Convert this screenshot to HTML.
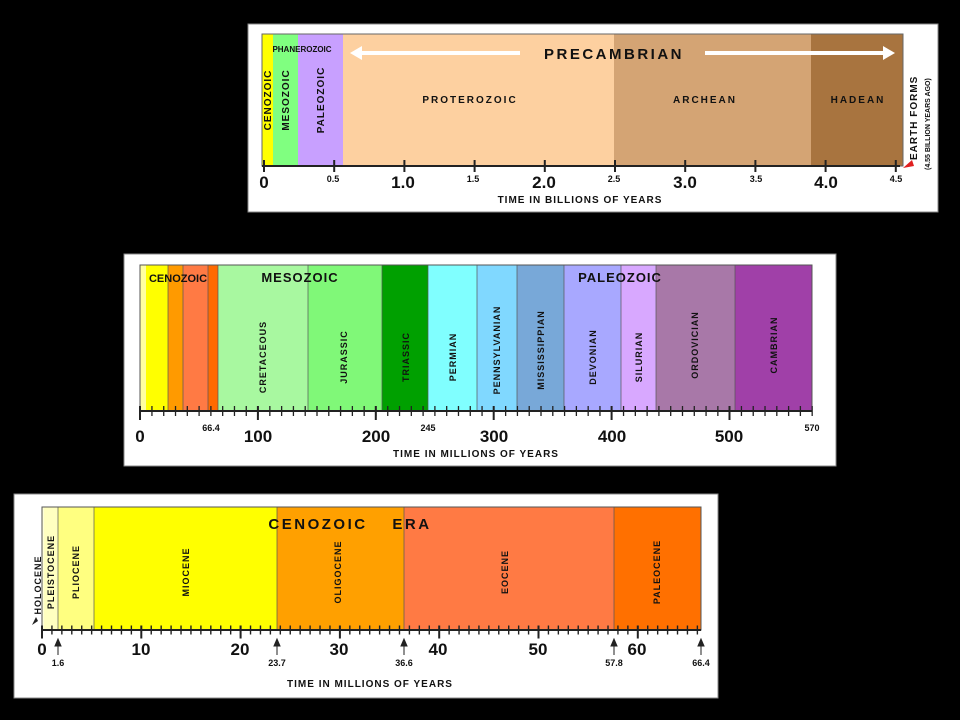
<!DOCTYPE html>
<html><head><meta charset="utf-8"><style>
html,body{margin:0;padding:0;background:#000;}
svg{display:block;}
text{font-family:"Liberation Sans","DejaVu Sans",sans-serif;font-weight:bold;fill:#111;}
</style></head><body>
<svg width="960" height="720" viewBox="0 0 960 720" xmlns="http://www.w3.org/2000/svg">
<rect width="960" height="720" fill="#000"/>

<!-- PANEL 1 -->
<rect x="248" y="24" width="690" height="188" fill="#fff" stroke="#888"/>
<rect x="262" y="34" width="11" height="132" fill="#ffff00"/>
<rect x="273" y="34" width="25" height="132" fill="#80ff80"/>
<rect x="298" y="34" width="45" height="132" fill="#c8a0ff"/>
<rect x="343" y="34" width="271" height="132" fill="#fdd0a0"/>
<rect x="614" y="34" width="197" height="132" fill="#d4a474"/>
<rect x="811" y="34" width="92" height="132" fill="#a8743f"/>
<rect x="262" y="34" width="641" height="132" fill="none" stroke="#666" stroke-width="1"/>
<line x1="262" y1="166" x2="900" y2="166" stroke="#222" stroke-width="2"/>
<line x1="263" y1="166" x2="900" y2="166" stroke="#222" stroke-width="12" stroke-dasharray="2 68.2"/>
<text x="302" y="52" font-size="8" text-anchor="middle">PHANEROZOIC</text>
<text x="614" y="59" font-size="15" text-anchor="middle" letter-spacing="2.5">PRECAMBRIAN</text>
<line x1="358" y1="53" x2="520" y2="53" stroke="#fff" stroke-width="4"/>
<polygon points="350,53 362,46 362,60" fill="#fff"/>
<line x1="705" y1="53" x2="885" y2="53" stroke="#fff" stroke-width="4"/>
<polygon points="895,53 883,46 883,60" fill="#fff"/>
<text transform="translate(271,100) rotate(-90)" font-size="10" text-anchor="middle" letter-spacing="1">CENOZOIC</text>
<text transform="translate(289,100) rotate(-90)" font-size="10" text-anchor="middle" letter-spacing="1">MESOZOIC</text>
<text transform="translate(324,100) rotate(-90)" font-size="10" text-anchor="middle" letter-spacing="1">PALEOZOIC</text>
<text x="470" y="103" font-size="10" text-anchor="middle" letter-spacing="2">PROTEROZOIC</text>
<text x="705" y="103" font-size="10" text-anchor="middle" letter-spacing="2">ARCHEAN</text>
<text x="858" y="103" font-size="10" text-anchor="middle" letter-spacing="2">HADEAN</text>
<text transform="translate(917,160) rotate(-90)" font-size="10" letter-spacing="1">EARTH FORMS</text>
<text transform="translate(930,170) rotate(-90)" font-size="7">(4.55 BILLION YEARS AGO)</text>
<polygon points="903,168 912,160 914,166" fill="#e02020"/>
<g font-size="17" text-anchor="middle">
<text x="264" y="188">0</text><text x="403" y="188">1.0</text><text x="544" y="188">2.0</text><text x="685" y="188">3.0</text><text x="826" y="188">4.0</text>
</g>
<g font-size="9" text-anchor="middle">
<text x="333" y="182">0.5</text><text x="473" y="182">1.5</text><text x="614" y="182">2.5</text><text x="756" y="182">3.5</text><text x="896" y="182">4.5</text>
</g>
<text x="580" y="203" font-size="10" text-anchor="middle" letter-spacing="1">TIME IN BILLIONS OF YEARS</text>

<!-- PANEL 2 -->
<rect x="124" y="254" width="712" height="212" fill="#fff" stroke="#888"/>
<rect x="140" y="265" width="6" height="146" fill="#ffffa0"/>
<rect x="146" y="265" width="22" height="146" fill="#ffff00"/>
<rect x="168" y="265" width="15" height="146" fill="#ff9a00"/>
<rect x="183" y="265" width="25" height="146" fill="#ff7a44"/>
<rect x="208" y="265" width="10" height="146" fill="#ff6a00"/>
<rect x="218" y="265" width="90" height="146" fill="#a8f8a0"/>
<rect x="308" y="265" width="74" height="146" fill="#80f878"/>
<rect x="382" y="265" width="46" height="146" fill="#00a000"/>
<rect x="428" y="265" width="49" height="146" fill="#80ffff"/>
<rect x="477" y="265" width="40" height="146" fill="#80d8ff"/>
<rect x="517" y="265" width="47" height="146" fill="#78a8d8"/>
<rect x="564" y="265" width="57" height="146" fill="#a8a8ff"/>
<rect x="621" y="265" width="35" height="146" fill="#d8a8ff"/>
<rect x="656" y="265" width="79" height="146" fill="#a878a8"/>
<rect x="735" y="265" width="77" height="146" fill="#a040a8"/>
<g stroke="#555" stroke-width="0.7">
<line x1="168" y1="265" x2="168" y2="411"/><line x1="183" y1="265" x2="183" y2="411"/><line x1="208" y1="265" x2="208" y2="411"/><line x1="218" y1="265" x2="218" y2="411"/><line x1="308" y1="265" x2="308" y2="411"/><line x1="382" y1="265" x2="382" y2="411"/><line x1="428" y1="265" x2="428" y2="411"/><line x1="477" y1="265" x2="477" y2="411"/><line x1="517" y1="265" x2="517" y2="411"/><line x1="564" y1="265" x2="564" y2="411"/><line x1="621" y1="265" x2="621" y2="411"/><line x1="656" y1="265" x2="656" y2="411"/><line x1="735" y1="265" x2="735" y2="411"/>
</g>
<rect x="140" y="265" width="672" height="146" fill="none" stroke="#555"/>
<line x1="140" y1="411" x2="812" y2="411" stroke="#222" stroke-width="2"/>
<line x1="139.5" y1="411" x2="813" y2="411" stroke="#222" stroke-width="10" stroke-dasharray="1.3 10.49"/>
<line x1="139" y1="413" x2="813" y2="413" stroke="#222" stroke-width="14" stroke-dasharray="2 115.9"/>
<text x="178" y="282" font-size="11" text-anchor="middle">CENOZOIC</text>
<text x="300" y="282" font-size="13" text-anchor="middle" letter-spacing="1">MESOZOIC</text>
<text x="620" y="282" font-size="13" text-anchor="middle" letter-spacing="1">PALEOZOIC</text>
<g font-size="9" text-anchor="middle" letter-spacing="1">
<text transform="translate(266,357) rotate(-90)">CRETACEOUS</text>
<text transform="translate(347,357) rotate(-90)">JURASSIC</text>
<text transform="translate(409,357) rotate(-90)">TRIASSIC</text>
<text transform="translate(456,357) rotate(-90)">PERMIAN</text>
<text transform="translate(500,350) rotate(-90)">PENNSYLVANIAN</text>
<text transform="translate(544,350) rotate(-90)">MISSISSIPPIAN</text>
<text transform="translate(596,357) rotate(-90)">DEVONIAN</text>
<text transform="translate(642,357) rotate(-90)">SILURIAN</text>
<text transform="translate(698,345) rotate(-90)">ORDOVICIAN</text>
<text transform="translate(777,345) rotate(-90)">CAMBRIAN</text>
</g>
<g font-size="17" text-anchor="middle">
<text x="140" y="442">0</text><text x="258" y="442">100</text><text x="376" y="442">200</text><text x="494" y="442">300</text><text x="612" y="442">400</text><text x="729" y="442">500</text>
</g>
<g font-size="9" text-anchor="middle">
<text x="211" y="431">66.4</text><text x="428" y="431">245</text><text x="812" y="431">570</text>
</g>
<text x="476" y="457" font-size="10" text-anchor="middle" letter-spacing="1">TIME IN MILLIONS OF YEARS</text>

<!-- PANEL 3 -->
<rect x="14" y="494" width="704" height="204" fill="#fff" stroke="#888"/>
<rect x="42" y="507" width="2" height="123" fill="#ffffd8"/>
<rect x="44" y="507" width="14" height="123" fill="#ffffc0"/>
<rect x="58" y="507" width="36" height="123" fill="#ffff80"/>
<rect x="94" y="507" width="183" height="123" fill="#ffff00"/>
<rect x="277" y="507" width="127" height="123" fill="#ffa000"/>
<rect x="404" y="507" width="210" height="123" fill="#ff7a44"/>
<rect x="614" y="507" width="87" height="123" fill="#ff7000"/>
<g stroke="#555" stroke-width="0.7">
<line x1="58" y1="507" x2="58" y2="630"/><line x1="94" y1="507" x2="94" y2="630"/><line x1="277" y1="507" x2="277" y2="630"/><line x1="404" y1="507" x2="404" y2="630"/><line x1="614" y1="507" x2="614" y2="630"/>
</g>
<rect x="42" y="507" width="659" height="123" fill="none" stroke="#555"/>
<line x1="42" y1="630" x2="701" y2="630" stroke="#222" stroke-width="2"/>
<line x1="41.3" y1="630" x2="702" y2="630" stroke="#222" stroke-width="9" stroke-dasharray="1.4 8.53"/>
<line x1="41" y1="632" x2="702" y2="632" stroke="#222" stroke-width="13" stroke-dasharray="2 97.3"/>
<text x="318" y="529" font-size="15" text-anchor="middle" letter-spacing="2.5">CENOZOIC</text>
<text x="412" y="529" font-size="15" text-anchor="middle" letter-spacing="2.5">ERA</text>
<g font-size="9" text-anchor="middle" letter-spacing="1">
<text transform="translate(41,585) rotate(-90)">HOLOCENE</text>
<text transform="translate(54,572) rotate(-90)">PLEISTOCENE</text>
<text transform="translate(79,572) rotate(-90)">PLIOCENE</text>
<text transform="translate(189,572) rotate(-90)">MIOCENE</text>
<text transform="translate(341,572) rotate(-90)">OLIGOCENE</text>
<text transform="translate(508,572) rotate(-90)">EOCENE</text>
<text transform="translate(660,572) rotate(-90)">PALEOCENE</text>
</g>
<polygon points="32,625 36,617 38,621" fill="#222"/>
<g font-size="17" text-anchor="middle">
<text x="42" y="655">0</text><text x="141" y="655">10</text><text x="240" y="655">20</text><text x="339" y="655">30</text><text x="438" y="655">40</text><text x="538" y="655">50</text><text x="637" y="655">60</text>
</g>
<g font-size="9" text-anchor="middle">
<text x="58" y="666">1.6</text><text x="277" y="666">23.7</text><text x="404" y="666">36.6</text><text x="614" y="666">57.8</text><text x="701" y="666">66.4</text>
</g>
<g fill="#222" stroke="#222" stroke-width="1">
<line x1="58" y1="643" x2="58" y2="655"/><polygon points="58,639 55,646 61,646"/>
<line x1="277" y1="643" x2="277" y2="655"/><polygon points="277,639 274,646 280,646"/>
<line x1="404" y1="643" x2="404" y2="655"/><polygon points="404,639 401,646 407,646"/>
<line x1="614" y1="643" x2="614" y2="655"/><polygon points="614,639 611,646 617,646"/>
<line x1="701" y1="643" x2="701" y2="655"/><polygon points="701,639 698,646 704,646"/>
</g>
<text x="370" y="687" font-size="10" text-anchor="middle" letter-spacing="1">TIME IN MILLIONS OF YEARS</text>
</svg>
</body></html>
